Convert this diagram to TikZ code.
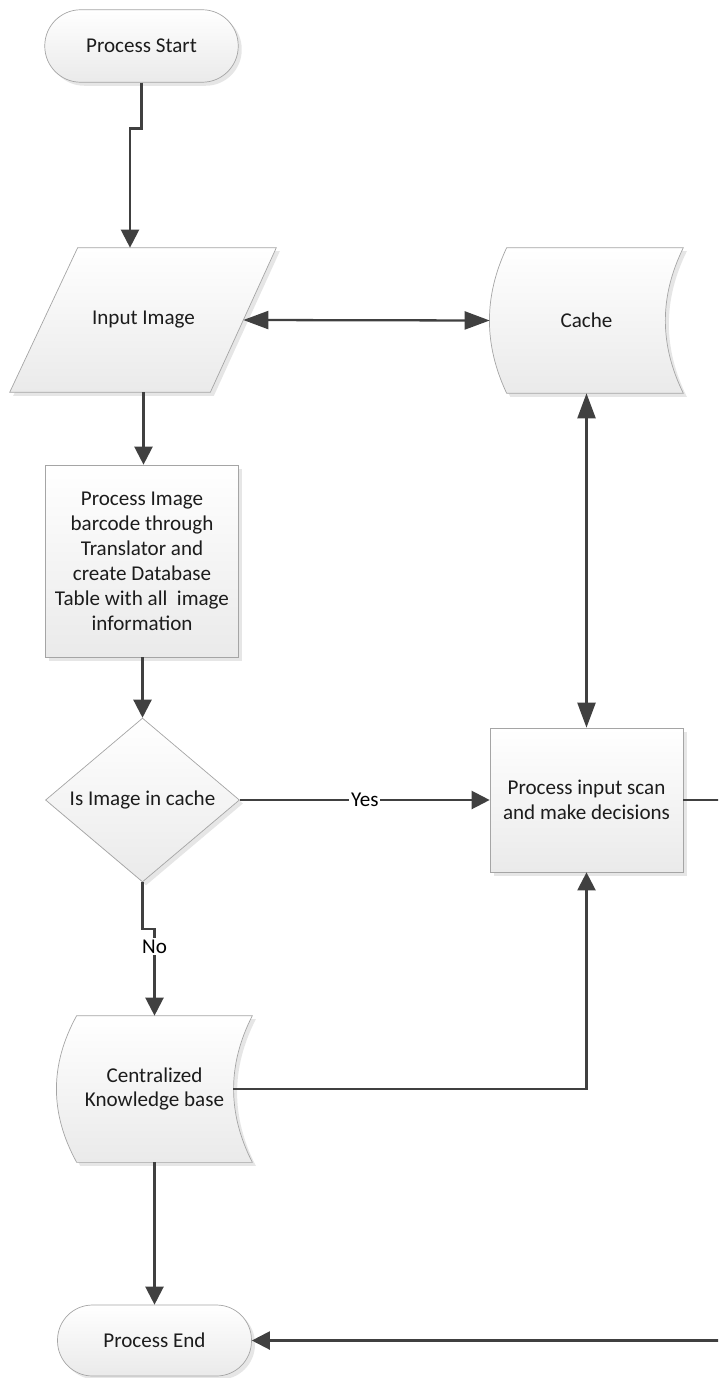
\documentclass[tikz,border=0pt]{standalone}
\usepackage{fontspec}
\setmainfont{Carlito}
\usetikzlibrary{shapes.geometric, arrows.meta, calc, backgrounds, shadows}
\definecolor{edgegray}{RGB}{165, 165, 165}
\definecolor{linegray}{RGB}{64, 64, 64}
\definecolor{shadebot}{RGB}{234, 234, 234}
\definecolor{textdark}{RGB}{28, 28, 28}

\begin{document}
\begin{tikzpicture}[
    x=0.02cm, y=-0.02cm,
    font=\fontsize{12}{14.2}\selectfont,
    shapefill/.style={draw=edgegray, thin, top color=white, bottom color=shadebot, drop shadow={shadow xshift=2pt, shadow yshift=-2pt, opacity=0.2}},
    terminal/.style={shapefill, rectangle, rounded corners=0.72cm, minimum width=3.87cm, minimum height=1.45cm, text=textdark},
    procbox/.style={shapefill, rectangle, minimum width=3.86cm, align=center, text=textdark},
    decision/.style={shapefill, diamond, minimum width=3.88cm, minimum height=2.9cm, inner sep=0pt, text=textdark},
    textholder/.style={rectangle, inner sep=0pt, align=center, text=textdark},
    flow/.style={draw=linegray, line width=1.3pt, -{Triangle[length=0.36cm, width=0.36cm]}},
    flowboth/.style={draw=linegray, line width=1.3pt, {Triangle[length=0.5cm, width=0.36cm]}-{Triangle[length=0.5cm, width=0.36cm]}},
    branch/.style={fill=white, inner sep=1pt, text=black}
]
    \useasboundingbox (0,0) rectangle (718,1378);
    \clip (0,0) rectangle (718,1378);

    % Left column
    \node[terminal] (start) at (141.5, 46) {Process Start};
    \node[textholder, minimum width=3.98cm, minimum height=2.88cm] (input) at (143.5, 320) {Input Image};
    \node[procbox, minimum height=3.84cm] (procimg) at (142, 561) {Process Image\\barcode through\\Translator and\\create Database\\Table with all~ image\\information};
    \node[decision] (incache) at (142.5, 800) {Is Image in cache};
    \node[textholder, minimum width=3.9cm, minimum height=2.92cm] (kbase) at (154.5, 1089) {Centralized\\Knowledge base};
    \node[terminal, minimum width=3.88cm, minimum height=1.42cm, rounded corners=0.7cm] (finish) at (154.5, 1340.5) {Process End};

    % Right column
    \node[textholder, minimum width=3.86cm, minimum height=2.9cm] (cache) at (586.5, 320.5) {Cache};
    \node[procbox, minimum height=2.88cm] (decide) at (586.5, 800) {Process input scan\\and make decisions};

    % Outlines of the drawn shapes
    \begin{scope}[on background layer]
        % parallelogram
        \path[shapefill] ($(input.north west)+(34,0)$) -- ($(input.north east)+(33,0)$)
            -- ($(input.south east)+(-33,0)$) -- ($(input.south west)+(-34,0)$) -- cycle;
        % stored data shapes
        \path[shapefill] ($(cache.north west)+(17,0)$) -- (cache.north east)
            .. controls ($(cache.north east)+(-24,49)$) and ($(cache.south east)+(-24,-49)$) .. (cache.south east)
            -- ($(cache.south west)+(17,0)$)
            .. controls ($(cache.south west)+(-6,-49)$) and ($(cache.north west)+(-6,49)$) .. ($(cache.north west)+(17,0)$) -- cycle;
        \path[shapefill] ($(kbase.north west)+(20,0)$) -- (kbase.north east)
            .. controls ($(kbase.north east)+(-25,49)$) and ($(kbase.south east)+(-25,-49)$) .. (kbase.south east)
            -- ($(kbase.south west)+(20,0)$)
            .. controls ($(kbase.south west)+(-7,-49)$) and ($(kbase.north west)+(-7,49)$) .. ($(kbase.north west)+(20,0)$) -- cycle;
    \end{scope}

    % Connectors
    \draw[flow] (start.south) -- ++(0,46) -| ($(input.north)+(-13.5,0)$);
    \draw[flowboth] (input.east) -- (cache.west);
    \draw[flow] (input.south) -- (input.south |- procimg.north);
    \draw[flow] (procimg.south -| incache.north) -- (incache.north);
    \draw[flow] (incache.east) -- node[branch]{Yes} (decide.west);
    \draw[flowboth] (cache.south) -- (decide.north);
    \draw[flow] (incache.south) -- ++(0,47) -| node[branch, pos=0.6]{No} (kbase.north);
    \draw[flow] ($(kbase.east)+(-19,0)$) -| (decide.south);
    \draw[flow] (kbase.south) -- (finish.north);
    \draw[flow] (decide.east) -- ++(60,0) |- (finish.east);
\end{tikzpicture}
\end{document}
